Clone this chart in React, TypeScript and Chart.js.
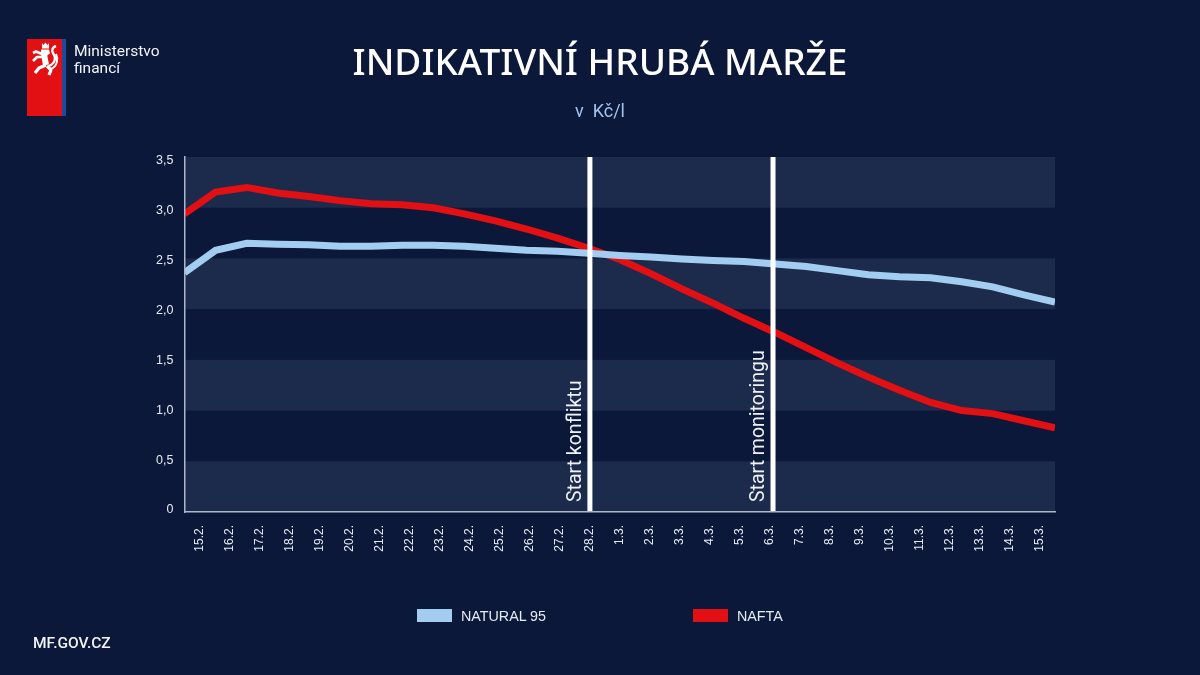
import React, { useEffect, useRef } from "react";
import { Chart, registerables } from "chart.js";

Chart.register(...registerables);

const categories = ["15.2.","16.2.","17.2.","18.2.","19.2.","20.2.","21.2.","22.2.","23.2.","24.2.","25.2.","26.2.","27.2.","28.2.","1.3.","2.3.","3.3.","4.3.","5.3.","6.3.","7.3.","8.3.","9.3.","10.3.","11.3.","12.3.","13.3.","14.3.","15.3."];
const natural95 = [2.36,2.58,2.65,2.64,2.635,2.62,2.62,2.63,2.63,2.62,2.60,2.58,2.57,2.55,2.53,2.515,2.495,2.48,2.47,2.445,2.42,2.38,2.34,2.32,2.31,2.27,2.22,2.14,2.07];
const nafta = [2.94,3.155,3.20,3.145,3.11,3.07,3.04,3.03,3.00,2.94,2.87,2.79,2.70,2.60,2.49,2.35,2.20,2.06,1.91,1.77,1.62,1.47,1.33,1.20,1.08,1.00,0.97,0.90,0.83];
const yTickValues = [0,0.5,1,1.5,2,2.5,3,3.5];
const yTickLabels = ["0","0,5","1,0","1,5","2,0","2,5","3,0","3,5"];
const bands = [[0,0.5],[1,1.5],[2,2.5],[3,3.5]];
const markerNames = ["Start konfliktu","Start monitoringu"];
const markerPositions = [13.04,18.93];
const seriesNames = ["NATURAL 95","NAFTA"];
const seriesColors = ["#a3cdf0","#e20f13"];

const BG = "#0b1839";
const BAND = "#1c2b4c";
const TEXT = "#e6eaf2";

const bandsPlugin = {
  id: "bands",
  beforeDatasetsDraw(chart: any) {
    const { ctx, chartArea, scales } = chart;
    ctx.save();
    ctx.fillStyle = BAND;
    bands.forEach(([a, b]) => {
      const y1 = scales.y.getPixelForValue(b);
      const y0 = scales.y.getPixelForValue(a);
      ctx.fillRect(chartArea.left, y1, chartArea.right - chartArea.left, y0 - y1);
    });
    ctx.restore();
  },
};

const markerLabelPlugin = {
  id: "markerLabels",
  afterDatasetsDraw(chart: any) {
    const { ctx, scales } = chart;
    ctx.save();
    ctx.fillStyle = "#eef1f6";
    ctx.font = "400 19.5px Roboto";
    ctx.textAlign = "left";
    ctx.textBaseline = "alphabetic";
    markerNames.forEach((name, i) => {
      ctx.save();
      ctx.translate(scales.x.getPixelForValue(markerPositions[i]) - 9, scales.y.getPixelForValue(0) - 10);
      ctx.rotate(-Math.PI / 2);
      ctx.fillText(name, 0, 0);
      ctx.restore();
    });
    ctx.restore();
  },
};

const abs = (left: number, top: number, extra: any = {}) => ({ position: "absolute", left, top, whiteSpace: "nowrap", ...extra });

export default function App() {
  const ref = useRef<HTMLCanvasElement>(null);
  useEffect(() => {
    const chart = new Chart(ref.current as HTMLCanvasElement, {
      type: "line",
      plugins: [bandsPlugin, markerLabelPlugin],
      data: {
        labels: categories,
        datasets: [
          ...markerPositions.map((m, i) => ({
            label: markerNames[i],
            data: [{ x: m, y: 0 }, { x: m, y: 3.5 }],
            borderColor: "#ffffff",
            borderWidth: 5,
            pointRadius: 0,
            order: 0,
            clip: 0,
          })),
          {
            label: seriesNames[0],
            data: natural95.map((y, x) => ({ x, y })),
            borderColor: seriesColors[0],
            borderWidth: 7,
            pointRadius: 0,
            tension: 0,
            order: 1,
            clip: 0,
          },
          {
            label: seriesNames[1],
            data: nafta.map((y, x) => ({ x, y })),
            borderColor: seriesColors[1],
            borderWidth: 7,
            pointRadius: 0,
            tension: 0,
            order: 2,
            clip: 0,
          },
        ] as any,
      },
      options: {
        animation: false,
        responsive: false,
        layout: { padding: { left: 0, right: 145, top: 157, bottom: 0 } },
        plugins: { legend: { display: false }, title: { display: false }, tooltip: { enabled: false } },
        scales: {
          x: { type: "linear", min: 0, max: categories.length - 1, display: false },
          y: { type: "linear", min: 0, max: 3.5, display: false },
          xTicks: {
            type: "category",
            position: "bottom",
            labels: categories,
            offset: true,
            afterFit(s: any) { s.height = 163; },
            grid: { display: false },
            border: { display: true, color: "#aeb6c8", width: 1.5, z: 1 },
            ticks: { color: TEXT, font: { family: "'Liberation Sans'", size: 12 }, minRotation: 90, maxRotation: 90, autoSkip: false, padding: 5 },
          },
          yTicks: {
            type: "linear",
            position: "left",
            min: -0.03,
            max: 3.53,
            afterFit(s: any) { s.width = 184.5; },
            afterBuildTicks(s: any) { s.ticks = yTickValues.map((value) => ({ value })); },
            grid: { display: false },
            border: { display: true, color: "#aeb6c8", width: 1.5, z: 1 },
            ticks: {
              color: TEXT,
              font: { family: "'Liberation Sans'", size: 12.5 },
              padding: 3,
              labelOffset: 1,
              callback: (v: any) => yTickLabels[yTickValues.indexOf(Number(v))],
            },
          },
        } as any,
      },
    });
    return () => chart.destroy();
  }, []);

  return (
    <div style={{ position: "absolute", left: 0, top: 0, width: 1200, height: 675, background: BG, overflow: "hidden" } as any}>
      <canvas ref={ref} width={1200} height={675} style={{ position: "absolute", left: 0, top: 0, width: 1200, height: 675 }} />
      <svg width={40} height={78} viewBox="0 0 40 78" style={abs(27, 39) as any}>
        <rect x={0} y={0} width={35} height={77} fill="#e20f13" />
        <rect x={35} y={0} width={4} height={77} fill="#1d4a9a" />
        <g fill="#fff">
          <path d="M15 4l1.5 2 2-2.5 2 2.5 1.5-2v5.5h-7z" />
          <path d="M14 10.5h8l1 4-3 2-6-1z" />
        </g>
        <g fill="none" stroke="#fff" strokeLinejoin="bevel">
          <path d="M15 15L9 12.5L6 14" strokeWidth={2.6} />
          <path d="M16 18L10 18L6 22" strokeWidth={2.6} />
          <path d="M17 15L19 26" strokeWidth={6} />
          <path d="M19 26L12 29L8 34" strokeWidth={3.2} />
          <path d="M20 27L24 31L22 36" strokeWidth={3.2} />
          <path d="M22 27C29 24 29 18 26 14C24 11 26 8 29 7" strokeWidth={2.4} />
          <path d="M24 30C31 27 31 19 29 15" strokeWidth={2} />
        </g>
      </svg>
      <div style={abs(74, 43, { color: "#f2f4f8", font: "400 15.5px/17px Roboto" }) as any}>Ministerstvo<br />financí</div>
      <div style={abs(0, 36, { width: 1200, textAlign: "center", color: "#ffffff", font: "500 37px/50px 'Noto Sans'" }) as any}>INDIKATIVNÍ HRUBÁ MARŽE</div>
      <div style={abs(0, 99, { width: 1200, textAlign: "center", color: "#a3c3ec", font: "400 18px/24px Roboto", whiteSpace: "pre" }) as any}>{"v  Kč/l"}</div>
      <div style={abs(33, 634, { color: "#f2f4f8", font: "500 15.5px/18px Roboto" }) as any}>MF.GOV.CZ</div>
      {seriesNames.map((name, i) => (
        <React.Fragment key={name}>
          <div style={abs(i === 0 ? 417 : 692.5, 609, { width: 35, height: 13, background: seriesColors[i] }) as any} />
          <div style={abs(i === 0 ? 461 : 737, 608, { color: TEXT, font: "14.3px/16px 'Liberation Sans'" }) as any}>{name}</div>
        </React.Fragment>
      ))}
    </div>
  );
}
